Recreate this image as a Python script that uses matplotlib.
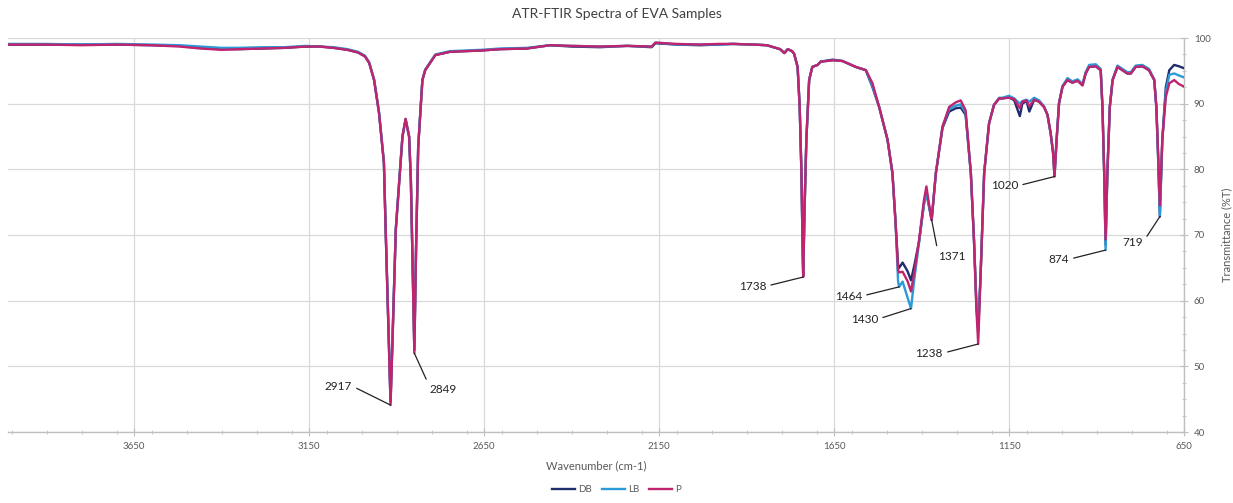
import matplotlib
matplotlib.use("Agg")
import matplotlib.pyplot as plt
from matplotlib.ticker import MultipleLocator, FixedLocator

plt.rcParams['font.family'] = ['Lato', 'DejaVu Sans']

# ---------------- data ----------------
WN = [4010, 3900, 3800, 3700, 3600, 3520, 3460, 3400, 3350, 3280,
      3220, 3160, 3120, 3080, 3040, 3010, 2990, 2978, 2964, 2950,
      2936, 2931, 2923, 2917, 2912, 2902, 2892, 2883, 2874, 2864,
      2859, 2855, 2849, 2844, 2838, 2831, 2826, 2818, 2789, 2747,
      2657, 2604, 2528, 2461, 2400, 2319, 2240, 2171, 2160, 2100,
      2033, 1980, 1939, 1880, 1842, 1804, 1792, 1782, 1770, 1764,
      1754, 1748, 1743, 1740, 1738, 1734, 1729, 1721, 1712, 1697,
      1688, 1654, 1626, 1588, 1559, 1540, 1521, 1497, 1483, 1474,
      1467, 1464, 1454, 1440, 1430, 1420, 1407, 1393, 1386, 1378,
      1371, 1359, 1340, 1321, 1302, 1288, 1274, 1259, 1250, 1243,
      1238, 1231, 1221, 1207, 1193, 1178, 1169, 1150, 1135, 1119,
      1112, 1100, 1092, 1078, 1064, 1050, 1040, 1031, 1024, 1020,
      1014, 1007, 997, 983, 969, 954, 940, 931, 921, 902,
      888, 883, 878, 874, 869, 862, 854, 840, 826, 812,
      802, 788, 769, 750, 735, 729, 724, 719, 712, 702,
      692, 678, 665, 650]

DB = [99.0, 99.0, 99.0, 99.0, 98.9, 98.8, 98.5, 98.3, 98.3, 98.4,
      98.5, 98.7, 98.7, 98.5, 98.2, 97.8, 97.2, 96.2, 93.6, 88.6,
      81.0, 70.8, 55.5, 44.6, 53.0, 70.8, 78.4, 85.0, 87.6, 85.0,
      78.4, 68.2, 52.5, 68.2, 83.4, 89.5, 93.6, 95.1, 97.4, 97.9,
      98.1, 98.3, 98.4, 98.9, 98.7, 98.6, 98.8, 98.6, 99.2, 99.0,
      98.9, 99.0, 99.1, 99.0, 98.9, 98.3, 97.7, 98.3, 98.0, 97.6,
      95.6, 89.5, 79.4, 69.2, 63.9, 74.3, 84.5, 93.6, 95.6, 95.9,
      96.4, 96.7, 96.5, 95.6, 95.1, 92.5, 89.5, 84.5, 79.4, 71.8,
      65.5, 65.0, 65.8, 64.5, 63.1, 65.5, 69.0, 74.8, 76.5, 74.3,
      72.3, 79.4, 86.3, 88.8, 89.3, 89.4, 88.3, 79.4, 69.2, 59.1,
      55.5, 64.2, 79.4, 87.0, 89.8, 90.8, 90.8, 91.0, 90.5, 88.1,
      90.0, 90.4, 88.8, 90.6, 90.3, 89.5, 88.3, 85.5, 82.5, 79.0,
      84.5, 90.1, 92.6, 93.6, 93.2, 93.5, 92.8, 94.6, 95.6, 95.7,
      95.1, 89.5, 79.4, 68.5, 79.4, 89.5, 93.6, 95.6, 95.1, 94.6,
      94.6, 95.6, 95.7, 95.1, 93.6, 89.5, 81.9, 72.8, 84.5, 92.5,
      95.1, 95.9, 95.7, 95.4]

LB = [99.1, 99.1, 99.0, 99.1, 99.0, 98.9, 98.7, 98.5, 98.5, 98.6,
      98.6, 98.8, 98.7, 98.6, 98.3, 97.9, 97.3, 96.3, 93.7, 88.8,
      81.2, 71.0, 56.0, 45.0, 53.5, 71.0, 78.5, 85.0, 87.6, 85.0,
      78.5, 68.5, 52.8, 68.4, 83.5, 89.6, 93.6, 95.2, 97.5, 98.0,
      98.2, 98.4, 98.5, 98.9, 98.8, 98.7, 98.8, 98.7, 99.3, 99.0,
      99.0, 99.0, 99.1, 99.0, 98.9, 98.3, 97.8, 98.3, 98.0, 97.6,
      95.6, 89.5, 79.4, 69.2, 63.8, 74.3, 84.5, 93.6, 95.6, 95.9,
      96.4, 96.6, 96.5, 95.6, 95.1, 92.6, 89.5, 84.5, 79.4, 71.8,
      63.0, 62.1, 62.9, 60.5, 58.8, 63.5, 68.8, 74.6, 76.3, 74.2,
      72.3, 79.4, 86.5, 89.2, 89.7, 89.9, 88.6, 79.4, 69.2, 59.4,
      55.8, 64.2, 79.4, 87.0, 89.8, 90.9, 90.9, 91.2, 90.8, 90.0,
      90.4, 90.6, 90.3, 90.9, 90.5, 89.6, 88.3, 85.5, 82.5, 79.0,
      84.5, 90.1, 92.7, 93.9, 93.4, 93.7, 93.0, 94.8, 95.9, 96.0,
      95.3, 89.5, 79.4, 67.7, 79.4, 89.5, 93.7, 95.8, 95.3, 94.8,
      94.8, 95.8, 95.9, 95.3, 93.7, 89.5, 81.9, 73.0, 84.5, 91.8,
      94.4, 94.6, 94.3, 94.0]

P = [99.0, 99.0, 98.9, 99.0, 98.9, 98.7, 98.4, 98.2, 98.3, 98.4,
     98.5, 98.7, 98.7, 98.5, 98.2, 97.8, 97.2, 96.2, 93.6, 88.6,
     81.0, 70.8, 55.2, 44.1, 52.8, 70.8, 78.4, 85.0, 87.7, 85.0,
     78.4, 68.2, 52.0, 68.2, 83.4, 89.5, 93.6, 95.1, 97.4, 97.9,
     98.1, 98.3, 98.4, 98.9, 98.8, 98.7, 98.8, 98.7, 99.3, 99.1,
     99.0, 99.1, 99.1, 99.0, 98.9, 98.3, 97.7, 98.3, 98.0, 97.6,
     95.6, 89.5, 79.4, 69.2, 63.6, 74.3, 84.5, 93.6, 95.6, 95.9,
     96.4, 96.6, 96.5, 95.6, 95.1, 93.1, 89.5, 84.5, 79.4, 71.8,
     64.7, 64.3, 64.4, 63.0, 61.4, 64.5, 69.2, 75.3, 77.4, 74.5,
     72.3, 79.4, 86.5, 89.5, 90.2, 90.5, 89.0, 79.4, 69.2, 58.5,
     53.4, 64.2, 79.4, 87.0, 89.8, 90.8, 90.8, 90.9, 90.7, 89.3,
     90.3, 90.5, 89.6, 90.6, 90.3, 89.5, 88.3, 85.5, 82.5, 78.9,
     84.5, 90.1, 92.6, 93.6, 93.2, 93.5, 92.8, 94.6, 95.6, 95.7,
     95.1, 89.5, 79.4, 69.3, 79.4, 89.5, 93.6, 95.6, 95.1, 94.6,
     94.6, 95.6, 95.7, 95.1, 93.6, 89.5, 82.5, 74.5, 84.5, 91.0,
     93.1, 93.6, 93.0, 92.6]

SERIES_NAMES = ['DB', 'LB', 'P']

# peak annotations: label, peak position, text anchor
PEAK_LABELS = ['2917', '2849', '1738', '1464', '1430', '1371', '1238', '1020', '874', '719']
PEAK_WN = [2917, 2849, 1738, 1464, 1430, 1371, 1238, 1020, 874, 719]
PEAK_T = [44.1, 52.0, 63.6, 62.1, 58.8, 72.3, 53.4, 78.9, 67.7, 72.8]
LABEL_WN = [3027, 2807, 1844, 1570, 1524, 1353, 1339, 1124, 979, 767]
LABEL_T = [47.0, 46.5, 62.2, 60.7, 57.2, 66.8, 52.0, 77.5, 66.3, 68.9]
LABEL_SIDE = ['right', 'left', 'right', 'right', 'right', 'left', 'right', 'right', 'right', 'right']

X_TICKS = [3650, 3150, 2650, 2150, 1650, 1150, 650]
Y_TICKS = [40, 50, 60, 70, 80, 90, 100]

# ---------------- styling ----------------
COLORS = {'DB': '#1f2d6e', 'LB': '#2a9bd8', 'P': '#c0246e'}
GRID = '#d9d9d9'
AXIS = '#bfbfbf'
TXT = '#595959'

W, H = 1233, 503
fig = plt.figure(figsize=(W / 100, H / 100), dpi=100)
ax = fig.add_axes([8 / W, 71 / H, 1176 / W, 394 / H])

series = {'DB': DB, 'LB': LB, 'P': P}
handles = []
for name in SERIES_NAMES:
    h, = ax.plot(WN, series[name], color=COLORS[name], lw=1.7, label=name,
                 solid_joinstyle='round', zorder=3)
    handles.append(h)

ax.set_xlim(4010, 650)
ax.set_ylim(40, 100)

ax.xaxis.set_major_locator(FixedLocator(X_TICKS))
ax.xaxis.set_minor_locator(MultipleLocator(100))
ax.yaxis.set_major_locator(FixedLocator(Y_TICKS))
ax.yaxis.set_minor_locator(MultipleLocator(2.5))
ax.yaxis.tick_right()
ax.yaxis.set_label_position('right')

for s in ['left', 'top']:
    ax.spines[s].set_visible(False)
for s in ['right', 'bottom']:
    ax.spines[s].set_color(AXIS)
    ax.spines[s].set_linewidth(1.0)

ax.grid(True, which='major', color=GRID, lw=0.9, zorder=0)
ax.set_axisbelow(True)
ax.tick_params(which='major', direction='inout', length=6, color=AXIS,
               labelsize=7, labelcolor=TXT, pad=4)
ax.tick_params(which='minor', direction='inout', length=3, color=AXIS)

ax.set_xlabel('Wavenumber (cm-1)', fontsize=8, color=TXT, labelpad=7)
ax.set_ylabel('Transmittance (%T)', fontsize=8, color=TXT, labelpad=8)

for lab, pw, pt, lw_, lt, side in zip(PEAK_LABELS, PEAK_WN, PEAK_T,
                                      LABEL_WN, LABEL_T, LABEL_SIDE):
    if side == 'right':
        ha, rel = 'right', (1.0, 0.5)
    else:
        ha, rel = 'left', (0.0, 0.85)
    ax.annotate(lab, xy=(pw, pt), xytext=(lw_, lt), textcoords='data',
                ha=ha, va='center', fontsize=8.5, color='#222222',
                arrowprops=dict(arrowstyle='-', color='#222222', lw=0.9,
                                shrinkA=1.5, shrinkB=0, relpos=rel),
                zorder=5)

fig.text(0.5, 1 - 14 / H, 'ATR-FTIR Spectra of EVA Samples', ha='center',
         va='center', fontsize=10, color='#404040')

fig.legend(handles=handles, labels=SERIES_NAMES, loc='lower center',
           bbox_to_anchor=(0.5, 0.0), ncol=3, frameon=False, fontsize=7,
           handlelength=2.4, handletextpad=0.3, columnspacing=1.0,
           labelcolor=TXT)

fig.savefig('out.png', dpi=100)
